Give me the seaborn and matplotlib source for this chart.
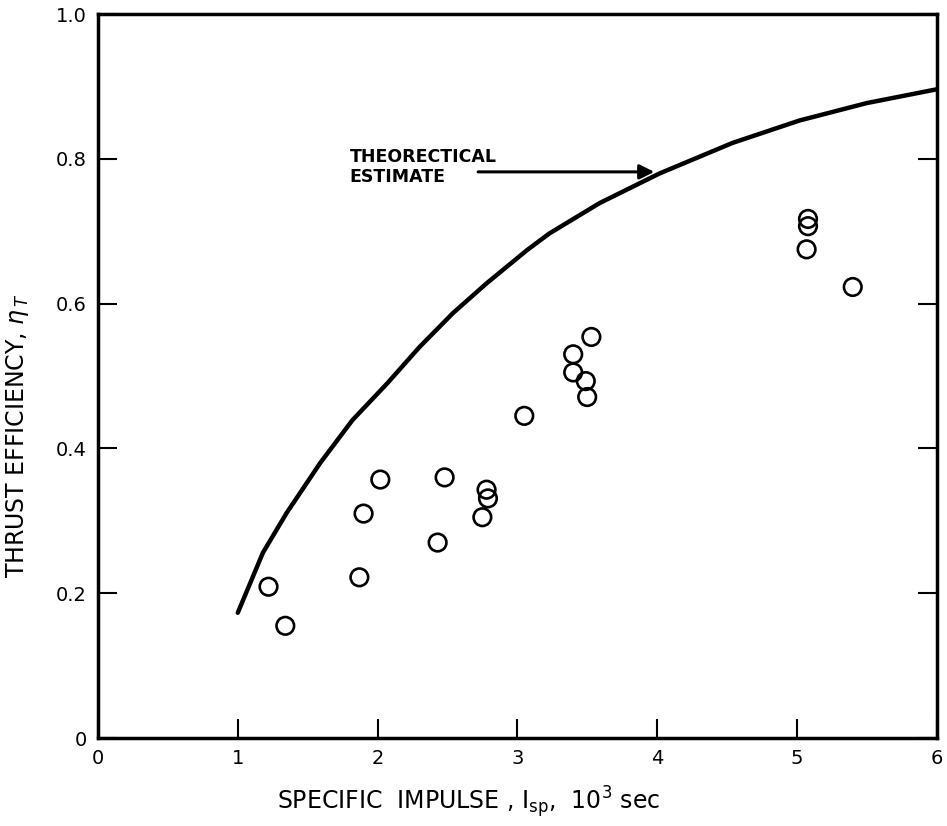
import numpy as np
import pandas as pd
import matplotlib
matplotlib.use("Agg")
import matplotlib.pyplot as plt
import seaborn as sns

sns.set_style("ticks", {'axes.edgecolor': 'black', 'text.color': 'black',
                        'axes.labelcolor': 'black', 'xtick.color': 'black',
                        'ytick.color': 'black'})
plt.rcParams['font.family'] = ['DejaVu Sans']

# measured points (Isp in 10^3 sec, thrust efficiency)
isp_meas = [1.22, 1.34, 1.87, 1.90, 2.02, 2.43, 2.48, 2.75, 2.78, 2.79,
            3.05, 3.40, 3.40, 3.49, 3.50, 3.53, 5.08, 5.08, 5.07, 5.40]
eff_meas = [0.209, 0.155, 0.222, 0.310, 0.357, 0.270, 0.360, 0.305, 0.343, 0.331,
            0.445, 0.530, 0.505, 0.493, 0.471, 0.554, 0.717, 0.707, 0.675, 0.623]

# theoretical estimate curve
isp_theory = [1.0, 1.18, 1.35, 1.59, 1.82, 2.07, 2.30, 2.54, 2.78, 3.07, 3.23,
              3.59, 4.02, 4.54, 5.02, 5.50, 6.0]
eff_theory = [0.173, 0.256, 0.311, 0.38, 0.439, 0.49, 0.54, 0.587, 0.628, 0.674, 0.697,
              0.739, 0.78, 0.822, 0.853, 0.877, 0.896]

meas = pd.DataFrame({'isp': isp_meas, 'eff': eff_meas})
theory = pd.DataFrame({'isp': isp_theory, 'eff': eff_theory})

fig = plt.figure(figsize=(9.47, 8.26), dpi=100)
ax = fig.add_axes([0.1035, 0.1065, 0.8855, 0.8765])

sns.lineplot(data=theory, x='isp', y='eff', color='black', linewidth=3.2, ax=ax)
sns.scatterplot(data=meas, x='isp', y='eff', marker='o', s=160,
                facecolor='none', edgecolor='black', linewidth=1.9, ax=ax)

ax.set_xlim(0, 6)
ax.set_ylim(0, 1.0)
ax.set_xticks(range(0, 7))
ax.set_yticks([0, 0.2, 0.4, 0.6, 0.8, 1.0])
ax.set_yticklabels(['0', '0.2', '0.4', '0.6', '0.8', '1.0'])
ax.tick_params(direction='in', length=14, width=1.5, labelsize=14,
               right=True, top=False, pad=8)
for sp in ax.spines.values():
    sp.set_linewidth(2.5)
    sp.set_visible(True)

ax.set_xlabel(r'SPECIFIC  IMPULSE , I$_{\mathrm{sp}}$,  10$^3$ sec', fontsize=17)
ax.xaxis.set_label_coords(0.442, -0.064)
ax.set_ylabel(r'THRUST EFFICIENCY, $\eta_{\,T}$', fontsize=17)
ax.yaxis.set_label_coords(-0.08, 0.418)

ax.annotate('', xy=(4.0, 0.782), xytext=(2.70, 0.782),
            arrowprops=dict(arrowstyle='-|>', color='black', lw=2.2, mutation_scale=22))
ax.text(1.80, 0.789, 'THEORECTICAL\nESTIMATE', fontsize=12.5, fontweight='bold',
        va='center', ha='left', linespacing=1.1)

fig.savefig('out.png', dpi=100)
